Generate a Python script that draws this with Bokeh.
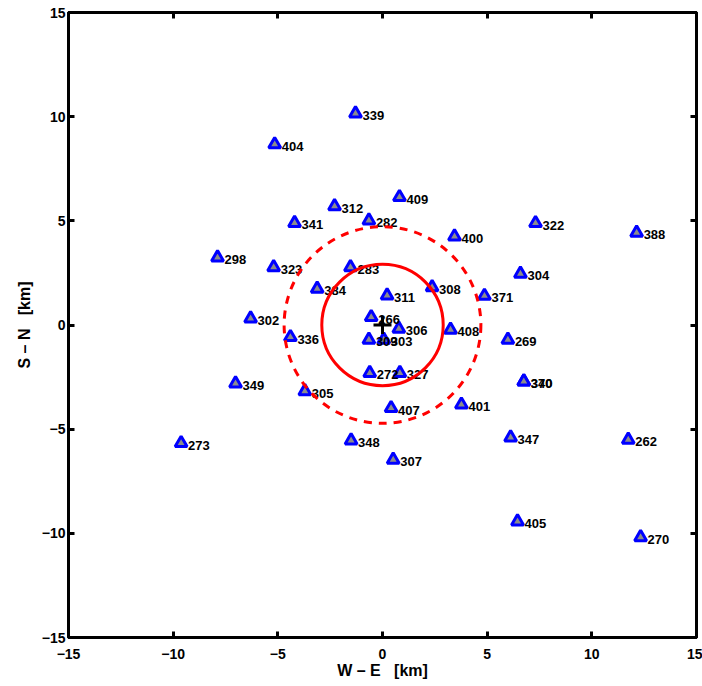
from bokeh.plotting import figure
from bokeh.models import ColumnDataSource, LinearAxis, FixedTicker
from bokeh.core.properties import value
from bokeh.embed import file_html
from bokeh.resources import INLINE

station = ["339", "404", "409", "312", "341", "282", "322", "388", "400", "298",
           "323", "283", "304", "384", "308", "371", "311", "302", "266", "306",
           "408", "336", "269", "309", "303", "272", "327", "349", "340", "370",
           "305", "407", "401", "273", "348", "347", "262", "307", "405", "270"]
we_km = [-1.29, -5.15, 0.81, -2.29, -4.20, -0.65, 7.31, 12.14, 3.44, -7.88,
         -5.20, -1.53, 6.59, -3.12, 2.37, 4.87, 0.22, -6.30, -0.54, 0.78,
         3.25, -4.40, 5.99, -0.65, 0.06, -0.61, 0.83, -7.02, 6.75, 6.75,
         -3.71, 0.41, 3.77, -9.62, -1.50, 6.12, 11.74, 0.51, 6.45, 12.33]
sn_km = [10.15, 8.67, 6.14, 5.70, 4.90, 5.02, 4.89, 4.43, 4.25, 3.24,
         2.77, 2.77, 2.46, 1.74, 1.81, 1.40, 1.42, 0.31, 0.38, -0.18,
         -0.23, -0.58, -0.71, -0.71, -0.71, -2.30, -2.30, -2.81, -2.71, -2.71,
         -3.18, -3.99, -3.82, -5.67, -5.54, -5.40, -5.51, -6.47, -9.43, -10.19]

inner_radius_km = 2.9
outer_radius_km = 4.7
ticks = [-15, -10, -5, 0, 5, 10, 15]
tick_labels = {-15: "\u221215", -10: "\u221210", -5: "\u22125", 0: "0", 5: "5", 10: "10", 15: "15"}

src = ColumnDataSource(dict(x=we_km, y=sn_km, name=station))

p = figure(width=702, height=686, x_range=(-15, 15), y_range=(-15, 15),
           output_backend="svg", toolbar_location=None,
           min_border_left=68, min_border_right=6, min_border_top=12, min_border_bottom=49)
p.grid.visible = False
p.outline_line_color = "black"
p.outline_line_width = 3
p.background_fill_color = "white"
p.border_fill_color = "white"

for ax in [p.xaxis[0], p.yaxis[0]]:
    ax.ticker = FixedTicker(ticks=ticks)
    ax.major_label_overrides = tick_labels
    ax.major_tick_in = 6
    ax.major_tick_out = 0
    ax.minor_tick_line_color = None
    ax.axis_line_width = 3
    ax.major_tick_line_width = 3
    ax.major_label_text_font = "Liberation Sans"
    ax.major_label_text_font_style = "bold"
    ax.major_label_text_font_size = "14px"
    ax.major_label_text_color = "black"
    ax.axis_label_text_font = "Liberation Sans"
    ax.axis_label_text_font_style = "bold"
    ax.axis_label_text_font_size = "16px"
    ax.axis_label_text_color = "black"
p.xaxis.axis_label = "W \u2013 E\u00a0\u00a0 [km]"
p.yaxis.axis_label = "S \u2013 N\u00a0\u00a0 [km]"
p.xaxis.major_label_standoff = 11
p.yaxis.major_label_standoff = 3
p.xaxis.axis_label_standoff = 0
p.yaxis.axis_label_standoff = 6

for loc in ["right", "above"]:
    ax = LinearAxis(ticker=FixedTicker(ticks=ticks))
    ax.major_tick_in = 6
    ax.major_tick_out = 0
    ax.minor_tick_line_color = None
    ax.axis_line_width = 3
    ax.major_tick_line_width = 3
    ax.major_label_overrides = {t: "" for t in ticks}
    ax.major_label_text_font_size = "1px"
    ax.major_label_standoff = 0
    p.add_layout(ax, loc)

p.scatter("x", "y", source=src, marker="triangle", size=12,
          fill_color="#8c8c8c", line_color="#0000ff", line_width=3)
p.text("x", "y", text="name", source=src, x_offset=7, y_offset=2,
       text_font=value("Liberation Sans"), text_font_style="bold",
       text_font_size="13px", text_baseline="middle", text_align="left",
       text_color="black")

p.circle(x=[0], y=[0], radius=inner_radius_km, fill_color=None,
         line_color="#ff0000", line_width=3)
p.circle(x=[0], y=[0], radius=outer_radius_km, fill_color=None,
         line_color="#ff0000", line_width=3, line_dash="8 7")
p.scatter(x=[0], y=[0], marker="cross", size=18, line_color="black", line_width=3)

open("out.html", "w").write(file_html(p, INLINE))
